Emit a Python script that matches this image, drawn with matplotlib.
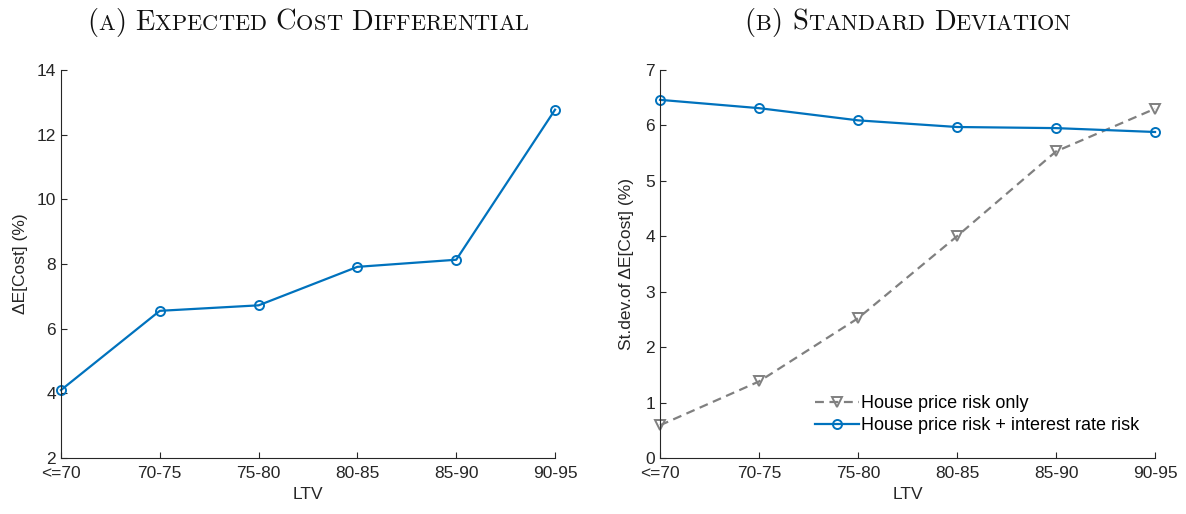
import matplotlib
matplotlib.use("Agg")
import matplotlib.pyplot as plt
from matplotlib.offsetbox import TextArea, HPacker, AnchoredOffsetbox
import numpy as np

# data
ltv = ['<=70', '70-75', '75-80', '80-85', '85-90', '90-95']
exp_cost_diff = [4.10, 6.55, 6.72, 7.91, 8.13, 12.77]
sd_house_only = [0.59, 1.38, 2.52, 4.00, 5.53, 6.30]
sd_house_rate = [6.46, 6.31, 6.09, 5.97, 5.95, 5.88]

blue = '#0072BD'
gray = '#808080'
axcol = '#262626'

plt.rcParams['font.family'] = ['Liberation Sans', 'DejaVu Sans']
plt.rcParams['mathtext.fontset'] = 'cm'


def small_caps_title(ax, text, big=20.5, small=16):
    # fake LaTeX small caps: capitals/punctuation big, lower case as small caps
    parts = []
    for ch in text:
        if ch.islower():
            parts.append(TextArea(ch.upper(), textprops=dict(family='cmr10', size=small, color='#111111')))
        else:
            parts.append(TextArea(ch, textprops=dict(family='cmr10', size=big, color='#111111')))
    box = HPacker(children=parts, align='baseline', pad=0, sep=0)
    anc = AnchoredOffsetbox(loc='lower center', child=box, pad=0, frameon=False,
                            bbox_to_anchor=(0.5, 1.0), bbox_transform=ax.transAxes,
                            borderpad=2.4)
    ax.add_artist(anc)


def style(ax):
    ax.spines['top'].set_visible(False)
    ax.spines['right'].set_visible(False)
    for s in ['left', 'bottom']:
        ax.spines[s].set_color(axcol)
        ax.spines[s].set_linewidth(0.8)
    ax.tick_params(direction='in', length=4, width=0.8, colors=axcol, labelsize=12.5)
    ax.tick_params(axis='x', pad=6)


fig = plt.figure(figsize=(11.86, 5.14), dpi=100)
ax1 = fig.add_axes([0.0514, 0.109, 0.4166, 0.755])
ax2 = fig.add_axes([0.5565, 0.109, 0.4174, 0.755])

x = np.arange(len(ltv))

# panel A
ax1.plot(x, exp_cost_diff, color=blue, lw=1.6, marker='o', ms=6.5,
         mfc='none', mec=blue, mew=1.4, clip_on=False)
ax1.set_xlim(0, len(ltv) - 1)
ax1.set_ylim(2, 14)
ax1.set_yticks(np.arange(2, 15, 2))
ax1.set_xticks(x)
ax1.set_xticklabels(ltv)
ax1.set_xlabel('LTV', fontsize=12.5, color=axcol, labelpad=4)
ax1.set_ylabel('ΔE[Cost] (%)', fontsize=12.5, color=axcol, labelpad=6)
style(ax1)
small_caps_title(ax1, '(a) Expected Cost Differential')

# panel B
ax2.plot(x, sd_house_only, color=gray, lw=1.6, ls=(0, (4, 2.5)), marker='v', ms=7,
         mfc='none', mec=gray, mew=1.4, label='House price risk only', clip_on=False)
ax2.plot(x, sd_house_rate, color=blue, lw=1.6, marker='o', ms=6.5,
         mfc='none', mec=blue, mew=1.4, label='House price risk + interest rate risk',
         clip_on=False)
ax2.set_xlim(0, len(ltv) - 1)
ax2.set_ylim(0, 7)
ax2.set_yticks(np.arange(0, 8, 1))
ax2.set_xticks(x)
ax2.set_xticklabels(ltv)
ax2.set_xlabel('LTV', fontsize=12.5, color=axcol, labelpad=4)
ax2.set_ylabel('St.dev.of ΔE[Cost] (%)', fontsize=12.5, color=axcol, labelpad=8)
style(ax2)
leg = ax2.legend(loc='lower right', frameon=False, fontsize=13, handlelength=2.4,
                 handletextpad=0.1, labelspacing=0.25, bbox_to_anchor=(1.0, 0.02))
small_caps_title(ax2, '(b) Standard Deviation')

fig.savefig('out.png', dpi=100)
